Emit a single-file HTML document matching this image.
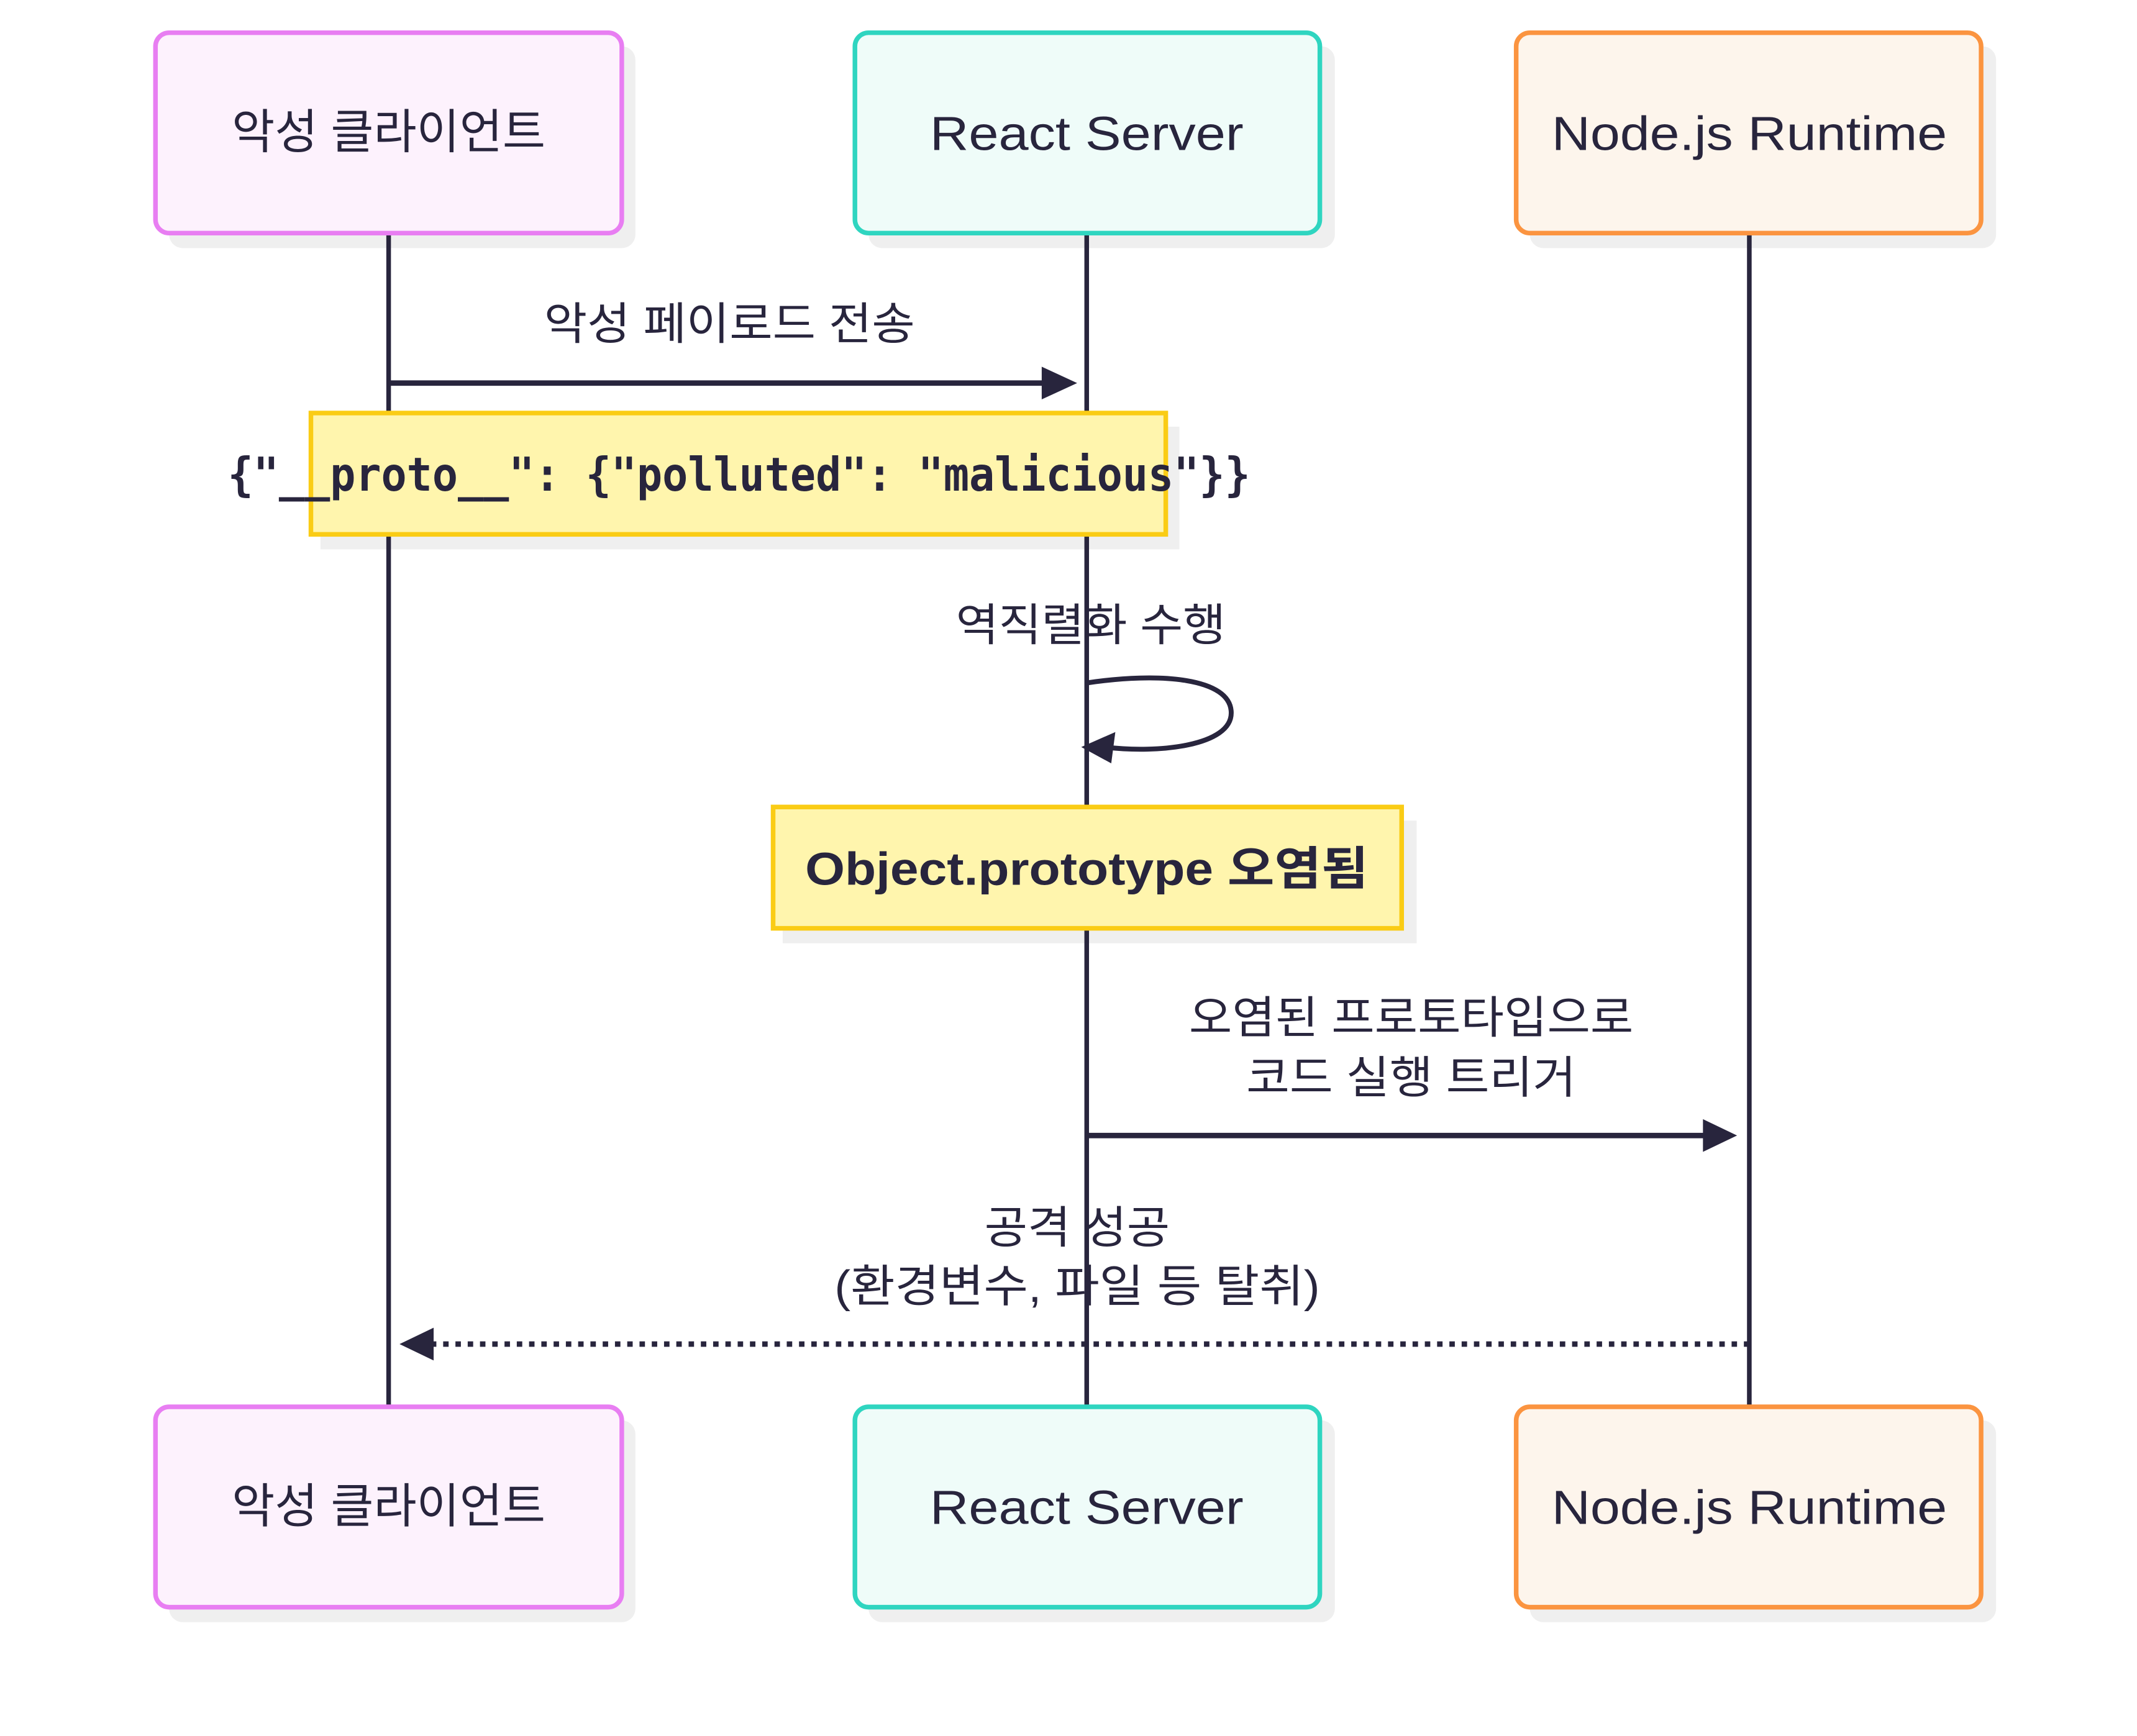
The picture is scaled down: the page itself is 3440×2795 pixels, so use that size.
<!DOCTYPE html>
<html><head><meta charset="utf-8"><style>
html,body{margin:0;padding:0;background:#fff;}
svg{display:block;}
text{font-family:"Liberation Sans","Noto Sans CJK KR",sans-serif;fill:#28253d;}
</style></head><body>
<svg width="3440" height="2795" viewBox="0 0 1567.3 1273.5" xmlns="http://www.w3.org/2000/svg">
<rect width="1567.3" height="1273.5" fill="#fff"/>
<g fill="#efefef">
<rect x="124" y="34" width="342" height="148" rx="10"/>
<rect x="637" y="34" width="342" height="148" rx="10"/>
<rect x="1122" y="34" width="342" height="148" rx="10"/>
<rect x="124" y="1042" width="342" height="148" rx="10"/>
<rect x="637" y="1042" width="342" height="148" rx="10"/>
<rect x="1122" y="1042" width="342" height="148" rx="10"/>
<rect x="235" y="313" width="630" height="90"/>
<rect x="574" y="602" width="465" height="90"/>
</g>
<g stroke="#28253d" stroke-width="3.4">
<line x1="285" y1="171" x2="285" y2="1032"/>
<line x1="797" y1="171" x2="797" y2="1032"/>
<line x1="1283" y1="171" x2="1283" y2="1032"/>
</g>
<g stroke-width="3.4">
<rect x="114" y="24" width="342" height="147" rx="10" fill="#fdf2fd" stroke="#e87ef2"/>
<rect x="627" y="24" width="341" height="147" rx="10" fill="#effcf9" stroke="#2fd5c0"/>
<rect x="1112" y="24" width="341" height="147" rx="10" fill="#fdf5ec" stroke="#fb9440"/>
<rect x="114" y="1032" width="342" height="147" rx="10" fill="#fdf2fd" stroke="#e87ef2"/>
<rect x="627" y="1032" width="341" height="147" rx="10" fill="#effcf9" stroke="#2fd5c0"/>
<rect x="1112" y="1032" width="341" height="147" rx="10" fill="#fdf5ec" stroke="#fb9440"/>
</g>
<g font-size="35" text-anchor="middle" lengthAdjust="spacingAndGlyphs">
<text x="285" y="109" textLength="230" lengthAdjust="spacingAndGlyphs">악성 클라이언트</text>
<text x="797" y="110" textLength="230" lengthAdjust="spacingAndGlyphs">React Server</text>
<text x="1283" y="110" textLength="290" lengthAdjust="spacingAndGlyphs">Node.js Runtime</text>
<text x="285" y="1117" textLength="230" lengthAdjust="spacingAndGlyphs">악성 클라이언트</text>
<text x="797" y="1118" textLength="230" lengthAdjust="spacingAndGlyphs">React Server</text>
<text x="1283" y="1118" textLength="290" lengthAdjust="spacingAndGlyphs">Node.js Runtime</text>
</g>
<text x="535" y="249" font-size="33" text-anchor="middle" textLength="272" lengthAdjust="spacingAndGlyphs">악성 페이로드 전송</text>
<line x1="285" y1="281" x2="770" y2="281" stroke="#28253d" stroke-width="4"/>
<polygon points="764,269 790,281 764,293" fill="#28253d"/>
<rect x="228" y="303" width="627" height="89" fill="#fff5ad" stroke="#facc15" stroke-width="3.4"/>
<text x="542" y="360" font-size="34" font-weight="bold" text-anchor="middle" textLength="750" lengthAdjust="spacingAndGlyphs" style="font-family:'DejaVu Sans Mono','Liberation Mono',monospace">{"__proto__": {"polluted": "malicious"}}</text>
<text x="800" y="470" font-size="33" text-anchor="middle" textLength="198" lengthAdjust="spacingAndGlyphs">역직렬화 수행</text>
<path d="M797,501 C850,493 903,497 903,523 C903,547 850,553 810,548" fill="none" stroke="#28253d" stroke-width="3.6"/>
<polygon points="793,548 818,537 815,560" fill="#28253d"/>
<rect x="567" y="592" width="461" height="89" fill="#fff5ad" stroke="#facc15" stroke-width="3.4"/>
<text x="797" y="649" font-size="34" font-weight="bold" text-anchor="middle" textLength="413" lengthAdjust="spacingAndGlyphs">Object.prototype 오염됨</text>
<text x="1035" y="758" font-size="33" text-anchor="middle" textLength="326" lengthAdjust="spacingAndGlyphs">오염된 프로토타입으로</text>
<text x="1035" y="802" font-size="33" text-anchor="middle" textLength="242" lengthAdjust="spacingAndGlyphs">코드 실행 트리거</text>
<line x1="797" y1="833" x2="1255" y2="833" stroke="#28253d" stroke-width="4"/>
<polygon points="1249,821 1274,833 1249,845" fill="#28253d"/>
<text x="790" y="912" font-size="33" text-anchor="middle" textLength="136" lengthAdjust="spacingAndGlyphs">공격 성공</text>
<text x="790" y="955" font-size="33" text-anchor="middle" textLength="356" lengthAdjust="spacingAndGlyphs">(환경변수, 파일 등 탈취)</text>
<line x1="1283" y1="986" x2="312" y2="986" stroke="#28253d" stroke-width="4" stroke-dasharray="4,5"/>
<polygon points="318,974 293,986 318,998" fill="#28253d"/>
</svg>
</body></html>
